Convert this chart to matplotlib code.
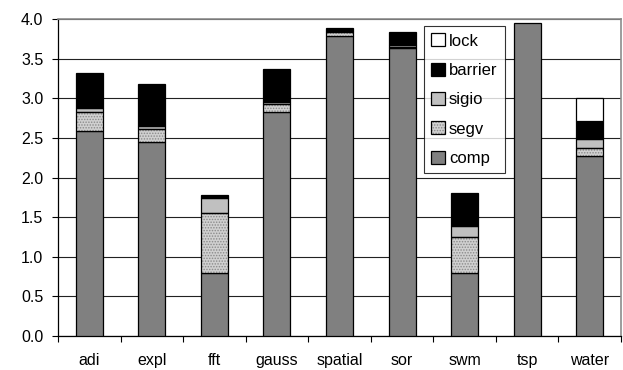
import numpy as np
import matplotlib
matplotlib.use('Agg')
import matplotlib.pyplot as plt
from matplotlib.patches import Patch
from matplotlib.legend_handler import HandlerTuple

plt.rcParams['font.family'] = ['Liberation Sans', 'DejaVu Sans']
plt.rcParams['hatch.linewidth'] = 0.7

programmas = ['adi', 'expl', 'fft', 'gauss', 'spatial', 'sor', 'swm', 'tsp', 'water']
comp    = [2.59, 2.45, 0.80, 2.83, 3.78, 3.64, 0.79, 3.95, 2.27]
segv    = [0.24, 0.16, 0.75, 0.10, 0.05, 0.01, 0.46, 0.00, 0.10]
sigio   = [0.05, 0.04, 0.19, 0.02, 0.02, 0.02, 0.14, 0.00, 0.12]
barrier = [0.44, 0.53, 0.04, 0.42, 0.04, 0.17, 0.41, 0.00, 0.22]
lock    = [0.00, 0.00, 0.00, 0.00, 0.00, 0.00, 0.00, 0.00, 0.29]
yticks = np.arange(0, 4.01, 0.5)

kleuren = {'comp': '#808080', 'sigio': '#c0c0c0', 'barrier': 'black', 'lock': 'white'}
stip_vlak = dict(facecolor='#d0d0d0', edgecolor='#8a8a8a', hatch='......', linewidth=0)

fig = plt.figure(figsize=(6.23, 3.70), dpi=100)
ax = fig.add_axes([0.0931, 0.0919, 0.9037, 0.8567])

x = np.arange(len(programmas))
breedte = 0.43
onder = np.zeros(len(programmas))


def randdikte(waarden):
    # geen rand tekenen voor lege segmenten
    return [0.9 if w > 0 else 0 for w in waarden]


ax.bar(x, comp, breedte, bottom=onder, color=kleuren['comp'],
       edgecolor='black', linewidth=randdikte(comp), zorder=3)
onder += comp
# segv: gestippeld vlak, daarna zwarte rand eroverheen
ax.bar(x, segv, breedte, bottom=onder, zorder=3, **stip_vlak)
ax.bar(x, segv, breedte, bottom=onder, fill=False, edgecolor='black',
       linewidth=randdikte(segv), zorder=4)
onder += segv
ax.bar(x, sigio, breedte, bottom=onder, color=kleuren['sigio'],
       edgecolor='black', linewidth=randdikte(sigio), zorder=3)
onder += sigio
ax.bar(x, barrier, breedte, bottom=onder, color=kleuren['barrier'],
       edgecolor='black', linewidth=randdikte(barrier), zorder=3)
onder += barrier
ax.bar(x, lock, breedte, bottom=onder, color=kleuren['lock'],
       edgecolor='black', linewidth=randdikte(lock), zorder=3)

ax.set_xlim(-0.5, len(programmas) - 0.5)
ax.set_ylim(0, 4.0)
ax.set_yticks(yticks)
ax.set_yticklabels(['%.1f' % v for v in yticks], fontsize=11.5)
ax.yaxis.grid(True, color='#222222', linewidth=0.8, zorder=0)
ax.set_axisbelow(True)

ax.set_xticks(x)
ax.set_xticklabels(programmas, fontsize=11.5)
ax.set_xticks(np.arange(-0.5, len(programmas), 1.0), minor=True)
ax.tick_params(axis='x', which='major', length=0, pad=12)
ax.tick_params(axis='x', which='minor', direction='out', length=4.5, width=0.8)
ax.tick_params(axis='y', direction='out', length=4.5, width=0.8, pad=6)

for kant in ['left', 'bottom']:
    ax.spines[kant].set_color('black')
    ax.spines[kant].set_linewidth(0.9)
for kant in ['top', 'right']:
    ax.spines[kant].set_color('#8c8c8c')
    ax.spines[kant].set_linewidth(1.2)

# legenda met losse proxy-vlakjes, zodat elk blokje een rand heeft
volgorde = ['lock', 'barrier', 'sigio', 'segv', 'comp']
legenda_items = []
for naam in volgorde:
    if naam == 'segv':
        legenda_items.append((Patch(**stip_vlak),
                              Patch(fill=False, edgecolor='black', linewidth=0.9)))
    else:
        legenda_items.append(Patch(facecolor=kleuren[naam], edgecolor='black',
                                   linewidth=0.9))

leg = ax.legend(legenda_items, volgorde, loc='upper left',
                bbox_to_anchor=(0.65, 0.978), fontsize=12, frameon=True,
                fancybox=False, handlelength=0.8, handleheight=0.8,
                handletextpad=0.25, labelspacing=0.85, borderpad=0.45,
                borderaxespad=0, handler_map={tuple: HandlerTuple(ndivide=1)})
leg.get_frame().set_edgecolor('black')
leg.get_frame().set_linewidth(0.8)
leg.set_zorder(5)

plt.savefig('out.png', dpi=100)
